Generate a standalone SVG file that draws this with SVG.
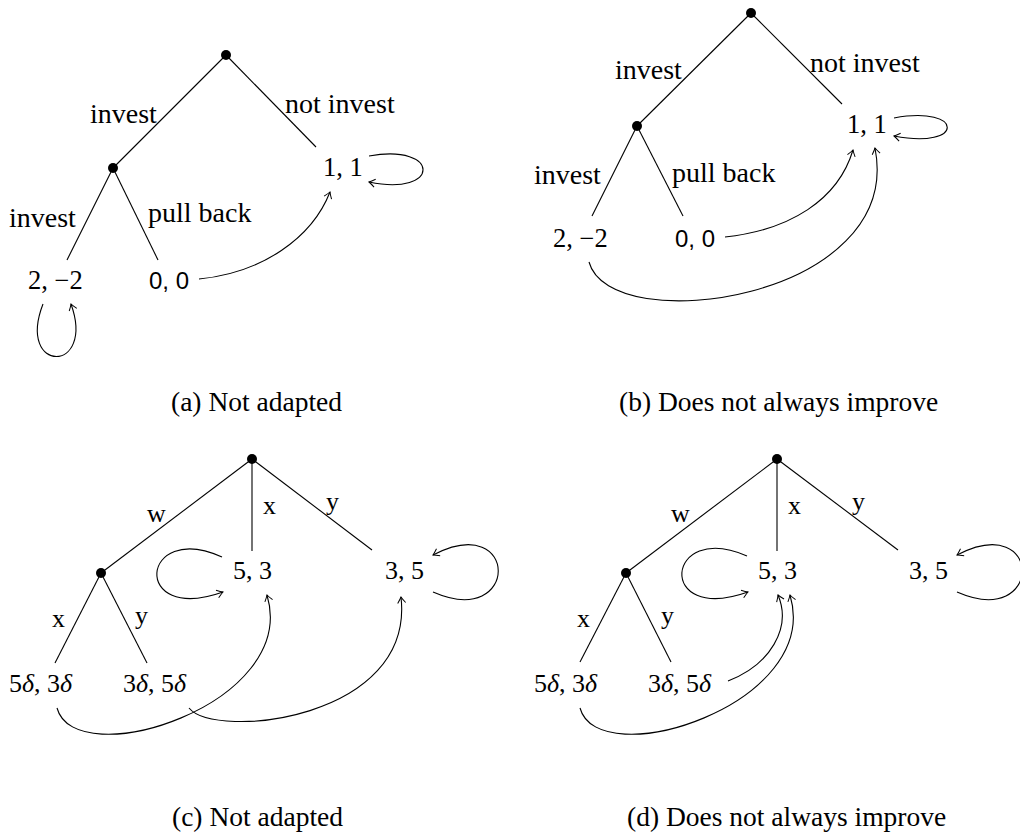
<svg xmlns="http://www.w3.org/2000/svg" width="1020" height="839" viewBox="0 0 1020 839">
<style>
.edge{stroke:#000;stroke-width:1.1;fill:none}
.arc{stroke:#000;stroke-width:1.1;fill:none;marker-end:url(#arr)}
.dot{fill:#000}
.lbl{font-family:"Liberation Serif",serif;font-size:28px;fill:#000}
.num{font-family:"Liberation Serif",serif;font-size:26.5px;fill:#000}
.sans{font-family:"Liberation Sans",sans-serif;font-size:24px;fill:#000}
.m{font-family:"Liberation Serif",serif;font-size:26px;fill:#000}
.cap{font-family:"Liberation Serif",serif;font-size:27.5px;fill:#000}
.it{font-style:italic}
</style>
<defs>
<marker id="arr" viewBox="-8 -5 9 10" refX="0" refY="0" markerWidth="9" markerHeight="10" markerUnits="userSpaceOnUse" orient="auto">
<path d="M -6 -4 Q -2 -1 0 0 Q -2 1 -6 4" fill="none" stroke="#000" stroke-width="1"/>
</marker>
</defs>
<rect width="1020" height="839" fill="#fff"/>

<g id="connectors">
<!-- panel a -->
<line class="edge" x1="226" y1="55" x2="113" y2="168"/>
<line class="edge" x1="226" y1="55" x2="316" y2="147"/>
<line class="edge" x1="113" y1="168" x2="67" y2="260"/>
<line class="edge" x1="113" y1="168" x2="158" y2="260"/>
<path class="arc" d="M 369 156 C 441 143, 441 197, 369 182"/>
<path class="arc" d="M 43 304 C 16 374, 96 374, 71 304"/>
<path class="arc" d="M 199 279 C 262 273, 312 238, 330 192"/>
<!-- panel b -->
<line class="edge" x1="751" y1="13" x2="637" y2="126"/>
<line class="edge" x1="751" y1="13" x2="842" y2="104"/>
<line class="edge" x1="637" y1="126" x2="592" y2="216"/>
<line class="edge" x1="637" y1="126" x2="683" y2="216"/>
<path class="arc" d="M 894 118 C 965 105, 965 150, 894 136"/>
<path class="arc" d="M 725 237 C 790 230, 838 200, 853 150"/>
<path class="arc" d="M 589 262 C 610 340, 905 300, 875 148"/>
<!-- panel c -->
<line class="edge" x1="252" y1="459" x2="101" y2="573"/>
<line class="edge" x1="252" y1="459" x2="252" y2="551"/>
<line class="edge" x1="252" y1="459" x2="372" y2="550"/>
<line class="edge" x1="101" y1="573" x2="55" y2="663"/>
<line class="edge" x1="101" y1="573" x2="147" y2="663"/>
<path class="arc" d="M 222 557 C 140 520, 130 625, 223 592"/>
<path class="arc" d="M 433 592 C 520 630, 520 510, 433 555"/>
<path class="arc" d="M 57 708 C 75 775, 300 705, 267 595"/>
<path class="arc" d="M 189 708 C 215 740, 415 720, 401 597"/>
<!-- panel d -->
<line class="edge" x1="777" y1="459" x2="626" y2="573"/>
<line class="edge" x1="777" y1="459" x2="777" y2="551"/>
<line class="edge" x1="777" y1="459" x2="898" y2="550"/>
<line class="edge" x1="626" y1="573" x2="580" y2="662"/>
<line class="edge" x1="626" y1="573" x2="671" y2="662"/>
<path class="arc" d="M 747 556 C 665 520, 655 625, 748 592"/>
<path class="arc" d="M 957 592 C 1044 630, 1044 510, 957 555"/>
<path class="arc" d="M 728 681 C 770 665, 792 628, 778 595"/>
<path class="arc" d="M 580 708 C 598 775, 823 705, 790 595"/>
</g>

<g id="edge-labels">
<text class="lbl" x="90" y="123">invest</text>
<text class="lbl" x="285" y="113">not invest</text>
<text class="lbl" x="9" y="227">invest</text>
<text class="lbl" x="148" y="222">pull back</text>
<text class="lbl" x="615" y="79">invest</text>
<text class="lbl" x="810" y="72">not invest</text>
<text class="lbl" x="534" y="184">invest</text>
<text class="lbl" x="672" y="182">pull back</text>
<text class="m" x="147" y="522">w</text>
<text class="m" x="263" y="514">x</text>
<text class="m" x="326" y="510">y</text>
<text class="m" x="52" y="627">x</text>
<text class="m" x="135" y="624">y</text>
<text class="m" x="671" y="522">w</text>
<text class="m" x="788" y="514">x</text>
<text class="m" x="852" y="510">y</text>
<text class="m" x="577" y="627">x</text>
<text class="m" x="661" y="624">y</text>
</g>

<g id="a-root"><circle class="dot" cx="226" cy="55" r="5"/></g>
<g id="a-mid"><circle class="dot" cx="113" cy="168" r="5"/></g>
<g id="a-11"><text class="num" x="323" y="176">1, 1</text></g>
<g id="a-2m2"><text class="num" x="28" y="289">2, −2</text></g>
<g id="a-00"><text class="sans" x="149" y="289">0, 0</text></g>

<g id="b-root"><circle class="dot" cx="751" cy="13" r="5"/></g>
<g id="b-mid"><circle class="dot" cx="637" cy="126" r="5"/></g>
<g id="b-11"><text class="num" x="847" y="133">1, 1</text></g>
<g id="b-2m2"><text class="num" x="553" y="247">2, −2</text></g>
<g id="b-00"><text class="sans" x="675" y="247">0, 0</text></g>

<g id="c-root"><circle class="dot" cx="252" cy="459" r="5"/></g>
<g id="c-mid"><circle class="dot" cx="101" cy="573" r="5"/></g>
<g id="c-53"><text class="m" x="233" y="579">5, 3</text></g>
<g id="c-35"><text class="m" x="385" y="579">3, 5</text></g>
<g id="c-5d3d"><text class="m" x="9" y="692">5<tspan class="it">δ</tspan>, 3<tspan class="it">δ</tspan></text></g>
<g id="c-3d5d"><text class="m" x="123" y="692">3<tspan class="it">δ</tspan>, 5<tspan class="it">δ</tspan></text></g>

<g id="d-root"><circle class="dot" cx="777" cy="459" r="5"/></g>
<g id="d-mid"><circle class="dot" cx="626" cy="573" r="5"/></g>
<g id="d-53"><text class="m" x="758" y="579">5, 3</text></g>
<g id="d-35"><text class="m" x="909" y="579">3, 5</text></g>
<g id="d-5d3d"><text class="m" x="534" y="692">5<tspan class="it">δ</tspan>, 3<tspan class="it">δ</tspan></text></g>
<g id="d-3d5d"><text class="m" x="648" y="692">3<tspan class="it">δ</tspan>, 5<tspan class="it">δ</tspan></text></g>

<g id="captions">
<text class="cap" x="171" y="411">(a) Not adapted</text>
<text class="cap" x="619" y="411">(b) Does not always improve</text>
<text class="cap" x="172" y="826">(c) Not adapted</text>
<text class="cap" x="627" y="826">(d) Does not always improve</text>
</g>
</svg>
